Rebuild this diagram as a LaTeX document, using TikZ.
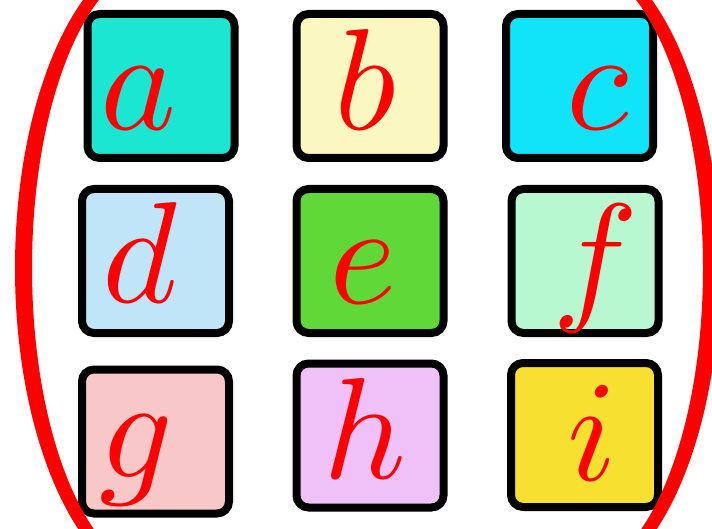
\documentclass[tikz,border=0pt]{standalone}
\DeclareFontShape{OML}{cmm}{m}{it}{<->cmmi10}{}
\definecolor{ca}{RGB}{26,230,209}
\definecolor{cb}{RGB}{250,248,192}
\definecolor{cc}{RGB}{16,228,248}
\definecolor{cd}{RGB}{192,228,248}
\definecolor{ce}{RGB}{96,216,56}
\definecolor{cf}{RGB}{184,248,208}
\definecolor{cg}{RGB}{248,200,200}
\definecolor{ch}{RGB}{240,192,248}
\definecolor{ci}{RGB}{248,224,48}
\tikzset{
  cell/.style={draw=black, line width=8pt, rounded corners=12pt,
    minimum width=147pt, minimum height=144pt, inner sep=0pt},
  letter/.style={anchor=base, inner sep=0pt, text=red,
    font=\fontsize{144}{144}\selectfont},
  paren/.style={fill=red, draw=none, even odd rule}
}
\begin{document}
\begin{tikzpicture}[x=1pt,y=-1pt]
\useasboundingbox (0,0) rectangle (712,529);
% boxes
\node[cell, fill=ca] (ba) at (161,86) {};
\node[cell, fill=cb] (bb) at (370,86) {};
\node[cell, fill=cc] (bc) at (579.5,86) {};
\node[cell, fill=cd] (bd) at (155.5,261) {};
\node[cell, fill=ce] (be) at (370,261) {};
\node[cell, fill=cf] (bf) at (585,261) {};
\node[cell, fill=cg] (bg) at (155.5,441.5) {};
\node[cell, fill=ch] (bh) at (370,435.5) {};
\node[cell, fill=ci] (bi) at (584.5,435) {};
% letters
\node[letter] (ta) at (138.5,130) {$a$};
\node[letter] (tb) at (365.5,130) {$b$};
\node[letter] (tc) at (597.5,130) {$c$};
\node[letter] (td) at (139.5,303) {$d$};
\node[letter] (te) at (363.5,304) {$e$};
\node[letter] (tf) at (595,305) {$f$};
\node[letter] (tg) at (136,477) {$g$};
\node[letter] (th) at (365,478) {$h$};
\node[letter] (ti) at (592.5,480) {$i$};
% parentheses
\begin{scope}
  \clip (-10,-10) rectangle (110,540);
  \path[paren] (165,268) ellipse [x radius=150pt, y radius=320pt]
               (160,268) ellipse [x radius=128pt, y radius=305pt];
\end{scope}
\begin{scope}
  \clip (625,-10) rectangle (730,540);
  \path[paren] (570,268) ellipse [x radius=150pt, y radius=320pt]
               (575,268) ellipse [x radius=128pt, y radius=305pt];
\end{scope}
\end{tikzpicture}
\end{document}
